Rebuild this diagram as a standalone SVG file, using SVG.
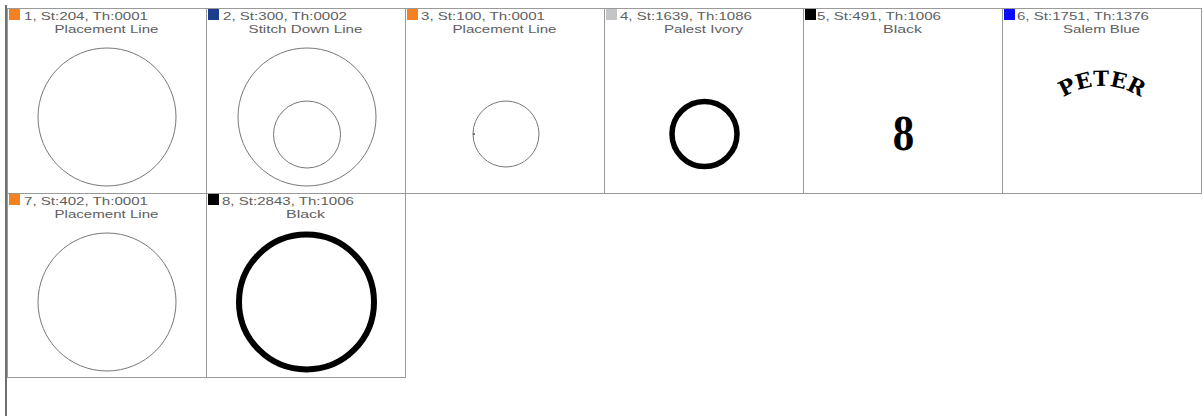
<svg xmlns="http://www.w3.org/2000/svg" width="1203" height="416" viewBox="0 0 1203 416">
<style>
.cell{fill:#fff;stroke:#9a9a9a;stroke-width:1}
.t1,.t2{font-family:"Liberation Sans",Arial,sans-serif;font-size:11px;fill:#606060}
.t2{text-anchor:middle}
.thin{fill:none;stroke:#777;stroke-width:1}
.thick{fill:none;stroke:#000}
.sw{stroke:none}
.emb{font-family:"DejaVu Serif","Liberation Serif",serif;font-weight:bold;fill:#000}
</style>
<defs>
<path id="arc" d="M 1054.5 104.2 A 71 71 0 0 1 1149.5 104.2"/>
</defs>
<rect x="0" y="0" width="1203" height="416" fill="#fff"/>
<rect x="5" y="5" width="2" height="411" fill="#707070"/>

<g id="node1">
<rect class="cell" x="7.5" y="8.5" width="199" height="185"/>
<rect class="sw" x="9" y="9" width="11" height="11" fill="#f58220"/>
<text class="t1" x="24" y="20" textLength="124" lengthAdjust="spacingAndGlyphs">1, St:204, Th:0001</text>
<text class="t2" x="106.5" y="32.5" textLength="104" lengthAdjust="spacingAndGlyphs">Placement Line</text>
<circle class="thin" cx="107" cy="117" r="69"/>
</g>

<g id="node2">
<rect class="cell" x="206.5" y="8.5" width="199" height="185"/>
<rect class="sw" x="208" y="9" width="11" height="11" fill="#1c3d8c"/>
<text class="t1" x="223" y="20" textLength="124" lengthAdjust="spacingAndGlyphs">2, St:300, Th:0002</text>
<text class="t2" x="305.5" y="32.5" textLength="114" lengthAdjust="spacingAndGlyphs">Stitch Down Line</text>
<circle class="thin" cx="307" cy="117" r="69"/>
<circle class="thin" cx="307" cy="134.5" r="33.5"/>
</g>

<g id="node3">
<rect class="cell" x="405.5" y="8.5" width="199" height="185"/>
<rect class="sw" x="407" y="9" width="11" height="11" fill="#f58220"/>
<text class="t1" x="421" y="20" textLength="124" lengthAdjust="spacingAndGlyphs">3, St:100, Th:0001</text>
<text class="t2" x="504.5" y="32.5" textLength="104" lengthAdjust="spacingAndGlyphs">Placement Line</text>
<circle class="thin" cx="506" cy="134" r="33"/>
<circle cx="474" cy="134" r="1" fill="#555"/>
</g>

<g id="node4">
<rect class="cell" x="604.5" y="8.5" width="199" height="185"/>
<rect class="sw" x="606" y="9" width="11" height="11" fill="#c4c4c4"/>
<text class="t1" x="620" y="20" textLength="132" lengthAdjust="spacingAndGlyphs">4, St:1639, Th:1086</text>
<text class="t2" x="703.5" y="32.5" textLength="79" lengthAdjust="spacingAndGlyphs">Palest Ivory</text>
<circle class="thick" cx="704.5" cy="134" r="32.5" stroke-width="5.5"/>
</g>

<g id="node5">
<rect class="cell" x="803.5" y="8.5" width="199" height="185"/>
<rect class="sw" x="805" y="9" width="11" height="11" fill="#000"/>
<text class="t1" x="817" y="20" textLength="124" lengthAdjust="spacingAndGlyphs">5, St:491, Th:1006</text>
<text class="t2" x="902.5" y="32.5" textLength="39" lengthAdjust="spacingAndGlyphs">Black</text>
<text class="emb" x="903.5" y="150" font-size="44" text-anchor="middle" font-family="Liberation Serif" textLength="22" lengthAdjust="spacingAndGlyphs">8</text>
</g>

<g id="node6">
<rect class="cell" x="1002.5" y="8.5" width="199" height="185"/>
<rect class="sw" x="1004" y="9" width="11" height="11" fill="#0a0aff"/>
<text class="t1" x="1017" y="20" textLength="132" lengthAdjust="spacingAndGlyphs">6, St:1751, Th:1376</text>
<text class="t2" x="1101.5" y="32.5" textLength="77" lengthAdjust="spacingAndGlyphs">Salem Blue</text>
<text class="emb" font-size="21"><textPath href="#arc" startOffset="50%" text-anchor="middle" textLength="82" lengthAdjust="spacingAndGlyphs">PETER</textPath></text>
</g>

<g id="node7">
<rect class="cell" x="7.5" y="193.5" width="199" height="184"/>
<rect class="sw" x="9" y="194" width="11" height="11" fill="#f58220"/>
<text class="t1" x="24" y="205" textLength="124" lengthAdjust="spacingAndGlyphs">7, St:402, Th:0001</text>
<text class="t2" x="106.5" y="218" textLength="104" lengthAdjust="spacingAndGlyphs">Placement Line</text>
<circle class="thin" cx="107" cy="302" r="69"/>
</g>

<g id="node8">
<rect class="cell" x="206.5" y="193.5" width="199" height="184"/>
<rect class="sw" x="208" y="194" width="11" height="11" fill="#000"/>
<text class="t1" x="222" y="205" textLength="132" lengthAdjust="spacingAndGlyphs">8, St:2843, Th:1006</text>
<text class="t2" x="305.5" y="218" textLength="39" lengthAdjust="spacingAndGlyphs">Black</text>
<circle class="thick" cx="306.5" cy="302" r="67.5" stroke-width="6"/>
</g>
</svg>
